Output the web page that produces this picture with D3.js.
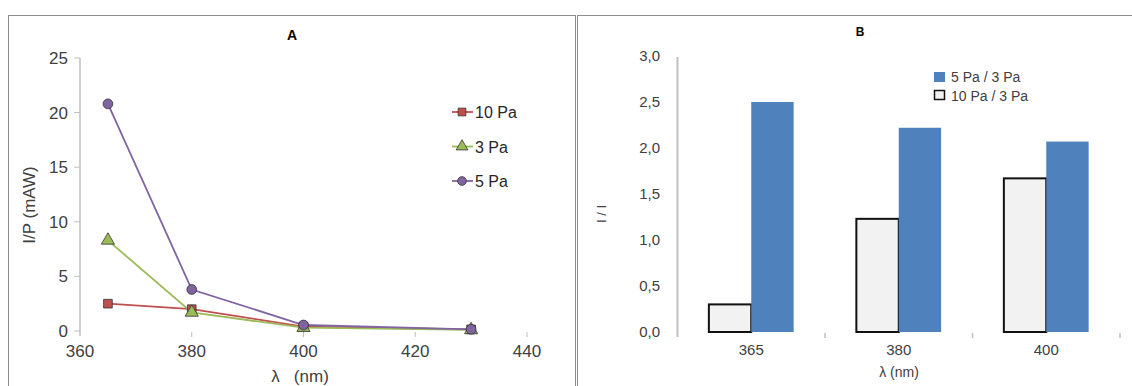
<!DOCTYPE html>
<html>
<head>
<meta charset="utf-8">
<script src="https://cdn.jsdelivr.net/npm/d3@7"></script>
<style>
  body { margin: 0; background: #fff; }
  svg { display: block; font-family: "Liberation Sans", Arial, sans-serif; }
</style>
</head>
<body>
<svg id="chart" width="1132" height="386"></svg>
<script>
// panel A data
var wavelengths = [365, 380, 400, 430];
var pa10 = [2.5, 2.0, 0.4, 0.15];
var pa3 = [8.3, 1.7, 0.3, 0.1];
var pa5 = [20.8, 3.8, 0.55, 0.15];
var xTicksA = [360, 380, 400, 420, 440];
var yTicksA = [0, 5, 10, 15, 20, 25];

// panel B data
var categoriesB = ['365', '380', '400'];
var ratio10to3 = [0.30, 1.23, 1.67];
var ratio5to3 = [2.50, 2.22, 2.07];
var yTicksB = [0, 0.5, 1, 1.5, 2, 2.5, 3];

var svg = d3.select('#chart');
var textCol = '#404040';
var axisCol = '#bfbfbf';

// frames
svg.append('rect').attr('x', 8.5).attr('y', 15.5).attr('width', 567).attr('height', 400)
  .attr('fill', 'none').attr('stroke', '#8c8c8c');
svg.append('rect').attr('x', 577.5).attr('y', 15.5).attr('width', 600).attr('height', 400)
  .attr('fill', 'none').attr('stroke', '#8c8c8c');

// ---------- panel A ----------
var x = d3.scaleLinear().domain([360, 440]).range([80, 527]);
var y = d3.scaleLinear().domain([0, 25]).range([331, 58]);
var gA = svg.append('g');

gA.append('text').attr('x', 292).attr('y', 40).attr('text-anchor', 'middle')
  .style('font-weight', 'bold').style('font-size', '14px').text('A');

gA.append('line').attr('x1', x(360)).attr('x2', x(360)).attr('y1', y(25)).attr('y2', y(0) + 5)
  .attr('stroke', axisCol).attr('stroke-width', 1.5);

var yAxisA = gA.append('g');
yAxisA.selectAll('line').data(yTicksA).enter().append('line')
  .attr('x1', 74).attr('x2', 80).attr('y1', function (d) { return y(d); }).attr('y2', function (d) { return y(d); })
  .attr('stroke', axisCol);
yAxisA.selectAll('text').data(yTicksA).enter().append('text')
  .attr('x', 68).attr('y', function (d) { return y(d) + 6; })
  .attr('text-anchor', 'end').style('font-size', '17px').attr('fill', textCol)
  .text(function (d) { return d; });

var xAxisA = gA.append('g');
xAxisA.selectAll('line').data(xTicksA.slice(1)).enter().append('line')
  .attr('x1', function (d) { return x(d); }).attr('x2', function (d) { return x(d); })
  .attr('y1', 332).attr('y2', 337).attr('stroke', axisCol);
xAxisA.selectAll('text').data(xTicksA).enter().append('text')
  .attr('x', function (d) { return x(d); }).attr('y', 357)
  .attr('text-anchor', 'middle').style('font-size', '17px').attr('fill', textCol)
  .text(function (d) { return d; });

gA.append('text').attr('x', 300).attr('y', 382).attr('text-anchor', 'middle')
  .style('font-size', '17px').attr('fill', textCol).attr('xml:space', 'preserve').text('λ   (nm)');
gA.append('text').attr('transform', 'translate(35,205) rotate(-90)').attr('text-anchor', 'middle')
  .style('font-size', '17px').attr('fill', textCol).text('I/P (mAW)');

var seriesA = [
  { name: '10 Pa', values: pa10, color: '#c0504d', shape: d3.symbolSquare },
  { name: '3 Pa', values: pa3, color: '#9bbb59', shape: d3.symbolTriangle },
  { name: '5 Pa', values: pa5, color: '#8064a2', shape: d3.symbolCircle }
];

var line = d3.line()
  .x(function (d) { return x(d[0]); })
  .y(function (d) { return y(d[1]); });

seriesA.forEach(function (s) {
  var pts = wavelengths.map(function (w, i) { return [w, s.values[i]]; });
  gA.append('path').datum(pts).attr('d', line).attr('fill', 'none')
    .attr('stroke', s.color).attr('stroke-width', 1.8);
});
seriesA.forEach(function (s) {
  var pts = wavelengths.map(function (w, i) { return [w, s.values[i]]; });
  gA.selectAll(null).data(pts).enter().append('path')
    .attr('d', d3.symbol().type(s.shape).size(75))
    .attr('transform', function (d) { return 'translate(' + x(d[0]) + ',' + y(d[1]) + ')'; })
    .attr('fill', s.color).attr('stroke', '#333').attr('stroke-width', 0.8);
});

var legA = gA.append('g');
seriesA.forEach(function (s, i) {
  var ly = 112 + i * 34.5;
  legA.append('line').attr('x1', 452).attr('x2', 473).attr('y1', ly).attr('y2', ly)
    .attr('stroke', s.color).attr('stroke-width', 1.8);
  legA.append('path').attr('d', d3.symbol().type(s.shape).size(60))
    .attr('transform', 'translate(462,' + ly + ')')
    .attr('fill', s.color).attr('stroke', '#333').attr('stroke-width', 0.8);
  legA.append('text').attr('x', 475).attr('y', ly + 6).style('font-size', '16px')
    .attr('fill', '#262626').text(s.name);
});

// ---------- panel B ----------
var commaFmt = d3.formatLocale({ decimal: ',', thousands: '.', grouping: [3], currency: ['', ''] }).format('.1f');
var xb = d3.scaleBand().domain(categoriesB).range([677.5, 1120]);
var yb = d3.scaleLinear().domain([0, 3]).range([332, 56]);
var inner = d3.scaleBand().domain(['r10', 'r5']).range([0, xb.bandwidth()]).paddingOuter(0.74).paddingInner(0);
var gB = svg.append('g');

gB.append('text').attr('x', 860).attr('y', 36).attr('text-anchor', 'middle')
  .style('font-weight', 'bold').style('font-size', '12px').text('B');

gB.append('line').attr('x1', 677.5).attr('x2', 677.5).attr('y1', 57).attr('y2', 337)
  .attr('stroke', axisCol).attr('stroke-width', 2);

gB.selectAll('.ytb').data(yTicksB).enter().append('text')
  .attr('x', 660).attr('y', function (d) { return yb(d) + 5; })
  .attr('text-anchor', 'end').style('font-size', '15px').attr('fill', textCol)
  .text(function (d) { return commaFmt(d); });

gB.selectAll('.xtick').data(categoriesB).enter().append('line')
  .attr('x1', function (d) { return xb(d) + xb.bandwidth(); })
  .attr('x2', function (d) { return xb(d) + xb.bandwidth(); })
  .attr('y1', 333).attr('y2', 338).attr('stroke', axisCol).attr('stroke-width', 1.5);
gB.selectAll('.xtb').data(categoriesB).enter().append('text')
  .attr('x', function (d) { return xb(d) + xb.bandwidth() / 2; }).attr('y', 355)
  .attr('text-anchor', 'middle').style('font-size', '15px').attr('fill', textCol)
  .text(function (d) { return d; });

gB.append('text').attr('x', 899).attr('y', 377).attr('text-anchor', 'middle')
  .style('font-size', '14px').attr('fill', textCol).text('λ (nm)');
gB.append('text').attr('transform', 'translate(606,214) rotate(-90)').attr('text-anchor', 'middle')
  .style('font-size', '13px').attr('fill', textCol).text('I / I');

gB.selectAll('.b10').data(categoriesB).enter().append('rect')
  .attr('x', function (d) { return xb(d) + inner('r10'); })
  .attr('y', function (d, i) { return yb(ratio10to3[i]); })
  .attr('width', inner.bandwidth())
  .attr('height', function (d, i) { return yb(0) - yb(ratio10to3[i]); })
  .attr('fill', '#f2f2f2').attr('stroke', '#111').attr('stroke-width', 2);
gB.selectAll('.b5').data(categoriesB).enter().append('rect')
  .attr('x', function (d) { return xb(d) + inner('r5'); })
  .attr('y', function (d, i) { return yb(ratio5to3[i]); })
  .attr('width', inner.bandwidth())
  .attr('height', function (d, i) { return yb(0) - yb(ratio5to3[i]); })
  .attr('fill', '#4f81bd');

var legB = gB.append('g');
legB.append('rect').attr('x', 934).attr('y', 72).attr('width', 11).attr('height', 10).attr('fill', '#4f81bd');
legB.append('text').attr('x', 951).attr('y', 82).style('font-size', '14px').attr('fill', textCol).text('5 Pa / 3 Pa');
legB.append('rect').attr('x', 934.5).attr('y', 90.5).attr('width', 10).attr('height', 9)
  .attr('fill', '#f2f2f2').attr('stroke', '#111').attr('stroke-width', 1.5);
legB.append('text').attr('x', 951).attr('y', 101).style('font-size', '14px').attr('fill', textCol).text('10 Pa / 3 Pa');
</script>
</body>
</html>
